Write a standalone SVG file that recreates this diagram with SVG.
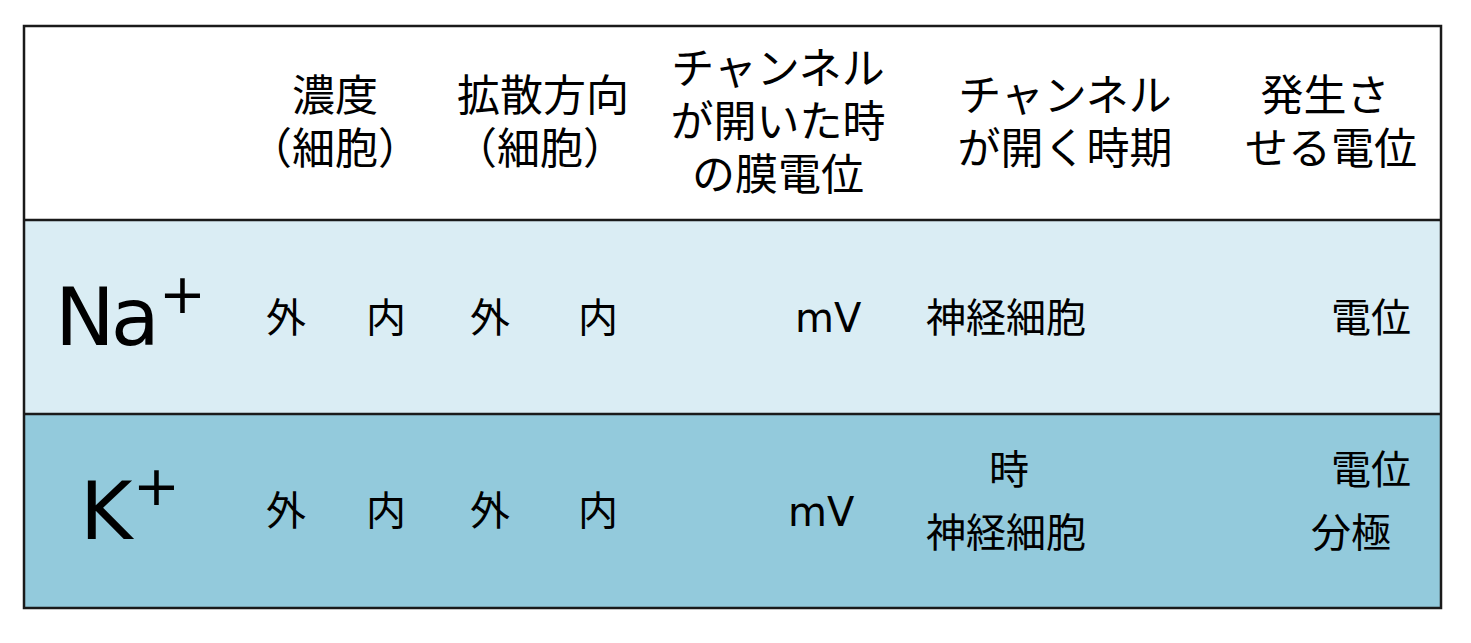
<svg xmlns="http://www.w3.org/2000/svg" width="1471" height="643" viewBox="0 0 1471 643">
<style>
.jp{font-family:"Noto Sans CJK JP","Noto Sans",sans-serif;fill:#000}
.h{font-size:43px;text-anchor:middle}
.b{font-size:40px}
.lat{font-family:"DejaVu Sans","Noto Sans CJK JP",sans-serif;fill:#000}
.line{stroke:#1a1a1a;stroke-width:2.5;fill:none}
</style>
<rect x="0" y="0" width="1471" height="643" fill="#fff"/>
<g id="rows">
<rect id="header-bg" x="24" y="26" width="1417" height="194" fill="#ffffff"/>
<rect id="na-bg" x="24" y="220" width="1417" height="194" fill="#daedf4"/>
<rect id="k-bg" x="24" y="414" width="1417" height="194" fill="#93cadc"/>
</g>
<g id="grid">
<rect class="line" x="24" y="26" width="1417" height="582"/>
<line class="line" x1="24" y1="220" x2="1441" y2="220"/>
<line class="line" x1="24" y1="414" x2="1441" y2="414"/>
</g>
<g id="header">
<g id="h-conc"><text class="jp h"><tspan x="335" y="111">濃度</tspan><tspan x="335" y="164">（細胞）</tspan></text></g>
<g id="h-diff"><text class="jp h"><tspan x="543" y="111">拡散方向</tspan><tspan x="540" y="164">（細胞）</tspan></text></g>
<g id="h-pot"><text class="jp h"><tspan x="778" y="84">チャンネル</tspan><tspan x="778" y="137">が開いた時</tspan><tspan x="778" y="190">の膜電位</tspan></text></g>
<g id="h-time"><text class="jp h"><tspan x="1065" y="111">チャンネル</tspan><tspan x="1065" y="164">が開く時期</tspan></text></g>
<g id="h-gen"><text class="jp h"><tspan x="1325" y="111">発生さ</tspan><tspan x="1331" y="164">せる電位</tspan></text></g>
</g>
<g id="row-na">
<text class="lat" x="55" y="345" font-size="80" letter-spacing="-4">Na</text>
<text class="lat" x="159" y="313" font-size="56">+</text>
<text class="jp b" x="266" y="332">外</text>
<text class="jp b" x="366" y="332">内</text>
<text class="jp b" x="470" y="332">外</text>
<text class="jp b" x="578" y="332">内</text>
<text class="lat" x="795" y="332" font-size="40">mV</text>
<text class="jp b" x="926" y="332">神経細胞</text>
<text class="jp b" x="1331" y="332">電位</text>
</g>
<g id="row-k">
<text class="lat" x="80" y="539" font-size="80">K</text>
<text class="lat" x="133" y="505" font-size="56">+</text>
<text class="jp b" x="266" y="525">外</text>
<text class="jp b" x="366" y="525">内</text>
<text class="jp b" x="470" y="525">外</text>
<text class="jp b" x="578" y="525">内</text>
<text class="lat" x="788" y="526" font-size="40">mV</text>
<text class="jp b" x="989" y="484">時</text>
<text class="jp b" x="926" y="547">神経細胞</text>
<text class="jp b" x="1331" y="484">電位</text>
<text class="jp b" x="1311" y="547">分極</text>
</g>
</svg>
